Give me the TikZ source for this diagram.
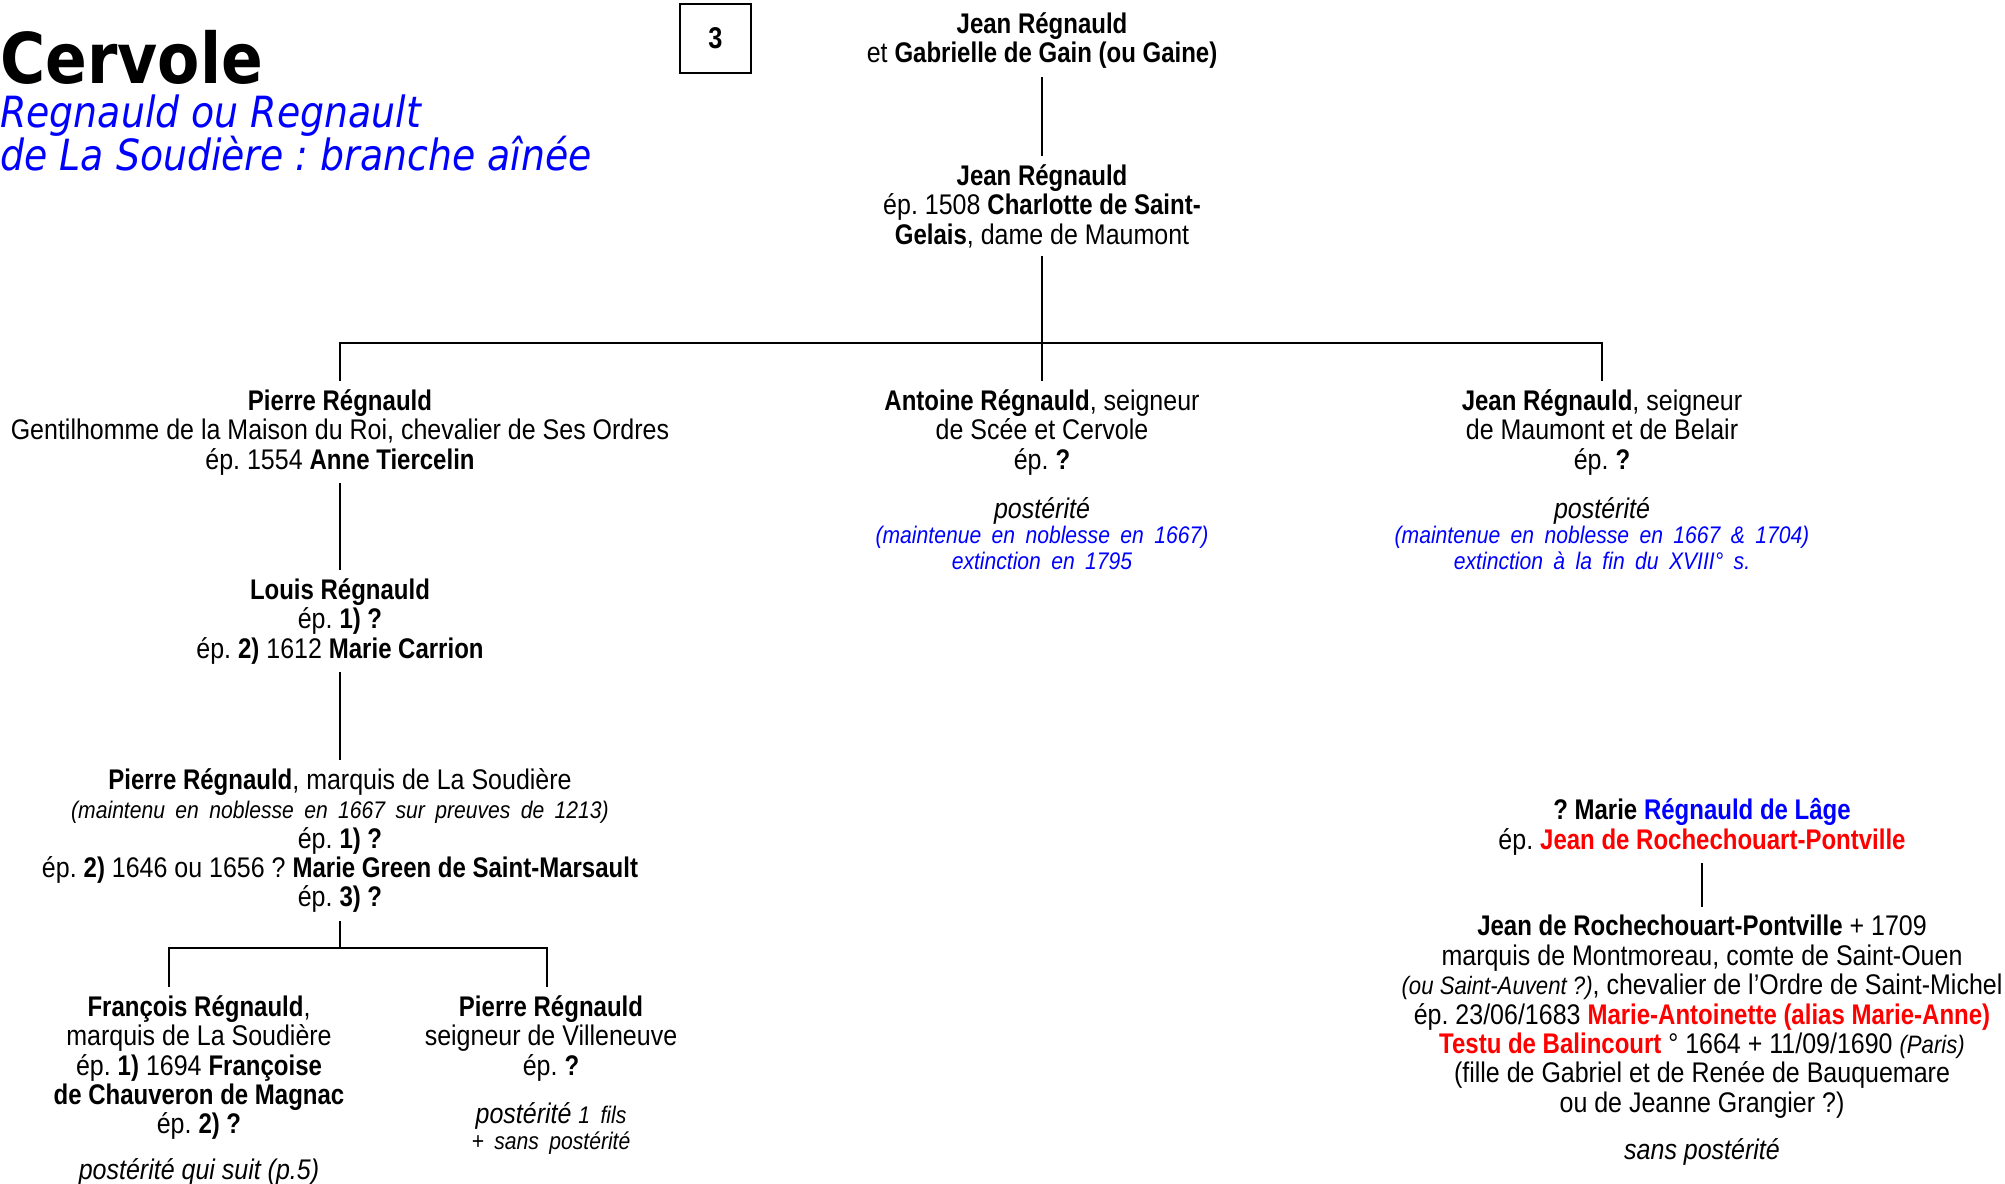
\documentclass[tikz,border=0pt]{standalone}
\usepackage{fontspec}
\setmainfont{Liberation Sans}[FakeStretch=0.88, BoldFeatures={FakeStretch=0.845}, BoldItalicFeatures={FakeStretch=0.845}]
\newfontfamily\titlefont{DejaVu Sans}[FakeStretch=0.88, BoldFont={DejaVu Sans Bold}, ItalicFont={DejaVu Sans Oblique}]
\usepackage{xcolor}
\definecolor{nameblue}{RGB}{0,0,255}
\definecolor{namered}{RGB}{255,0,0}
\newcommand{\smallnote}{\fontsize{12}{12.8}\selectfont\itshape}
\newcommand{\widenote}{\smallnote\spaceskip=5.2pt plus 1pt\relax}
\newcommand{\inlinenote}{\fontsize{12.6}{14.7}\selectfont\itshape}
\newcommand{\bluenote}[1]{{\color{nameblue}\widenote #1}}
\newcommand{\redname}[1]{\textcolor{namered}{\textbf{#1}}}

\begin{document}
\frenchspacing
\begin{tikzpicture}[
    x=0.5pt, y=-0.5pt,
    person/.style={align=center, anchor=north, inner sep=4pt, font=\fontsize{14.2}{14.7}\selectfont},
    link/.style={line width=1.2pt},
    numbox/.style={draw, line width=0.6pt, minimum width=35.5pt, minimum height=34.5pt, font=\fontsize{15}{15}\selectfont\bfseries}
]
\useasboundingbox (0,0) rectangle (2005,1183);

% Title
\node[anchor=base west, inner sep=0pt, font=\titlefont\fontsize{35}{35}\selectfont\bfseries] (title) at (0,83) {Cervole};
\node[anchor=north west, inner sep=0pt, align=left, text=nameblue, font=\titlefont\fontsize{21.5}{21.7}\selectfont\itshape] (subtitle) at (0,94) {Regnauld ou Regnault\\de La Soudière : branche aînée};
\node[numbox] (page) at (715.5,38.5) {3};

% First generations
\node[person] (n1) at (1042,4) {\textbf{Jean Régnauld}\\et \textbf{Gabrielle de Gain (ou Gaine)}};
\node[person] (n2) at (1042,156) {\textbf{Jean Régnauld}\\ép. 1508 \textbf{Charlotte de Saint-}\\\textbf{Gelais}, dame de Maumont};

% Sons
\node[person] (p1) at (340,381) {\textbf{Pierre Régnauld}\\Gentilhomme de la Maison du Roi, chevalier de Ses Ordres\\ép. 1554 \textbf{Anne Tiercelin}};
\node[person] (a1) at (1042,381) {\textbf{Antoine Régnauld}, seigneur\\de Scée et Cervole\\ép. \textbf{?}\\[9.8pt]\textit{postérité}\\[-2.2pt]\bluenote{(maintenue en noblesse en 1667)}\\[-1.7pt]\bluenote{extinction en 1795}};
\node[person] (j1) at (1602,381) {\textbf{Jean Régnauld}, seigneur\\de Maumont et de Belair\\ép. \textbf{?}\\[9.8pt]\textit{postérité}\\[-2.2pt]\bluenote{(maintenue en noblesse en 1667 \& 1704)}\\[-1.7pt]\bluenote{extinction à la fin du XVIII° s.}};

% Branch of Pierre
\node[person] (l1) at (340,570) {\textbf{Louis Régnauld}\\ép. \textbf{1) ?}\\ép. \textbf{2)} 1612 \textbf{Marie Carrion}};
\node[person] (pm) at (340,760) {\textbf{Pierre Régnauld}, marquis de La Soudière\\{\widenote (maintenu en noblesse en 1667 sur preuves de 1213)}\\ép. \textbf{1) ?}\\ép. \textbf{2)} 1646 ou 1656 ? \textbf{Marie Green de Saint-Marsault}\\ép. \textbf{3) ?}};
\node[person] (f1) at (199,987) {\textbf{François Régnauld},\\marquis de La Soudière\\ép. \textbf{1)} 1694 \textbf{Françoise}\\\textbf{de Chauveron de Magnac}\\ép. \textbf{2) ?}\\[8.2pt]\textit{postérité qui suit (p.5)}};
\node[person] (ps) at (551,987) {\textbf{Pierre Régnauld}\\seigneur de Villeneuve\\ép. \textbf{?}\\[9.3pt]\textit{postérité} {\widenote 1 fils}\\[-1.7pt]{\widenote + sans postérité}};

% Rochechouart
\node[person] (m1) at (1702,790) {\textbf{? Marie \textcolor{nameblue}{Régnauld de Lâge}}\\ép. \redname{Jean de Rochechouart-Pontville}};
\node[person] (r1) at (1702,907) {\textbf{Jean de Rochechouart-Pontville} + 1709\\marquis de Montmoreau, comte de Saint-Ouen\\{\inlinenote (ou Saint-Auvent ?)}, chevalier de l’Ordre de Saint-Michel\\ép. 23/06/1683 \redname{Marie-Antoinette (alias Marie-Anne)}\\\redname{Testu de Balincourt} ° 1664 + 11/09/1690 {\inlinenote (Paris)}\\(fille de Gabriel et de Renée de Bauquemare\\ou de Jeanne Grangier ?)\\[8.8pt]\textit{sans postérité}};

% Connections
\coordinate (bar) at (0,343);
\coordinate (fk) at (169,948);
\coordinate (pk) at (547,948);
\draw[link] (n1) -- (n2);
\draw[link] (n2) -- (a1);
\draw[link] (p1.north) |- (j1.north |- bar) -- (j1.north);
\draw[link] (p1) -- (l1);
\draw[link] (l1) -- (pm);
\draw[link] (pm.south) -- (pm.south |- fk);
\draw[link] (fk |- f1.north) -- (fk) -- (pk) -- (pk |- ps.north);
\draw[link] (m1) -- (r1);

\end{tikzpicture}
\end{document}
